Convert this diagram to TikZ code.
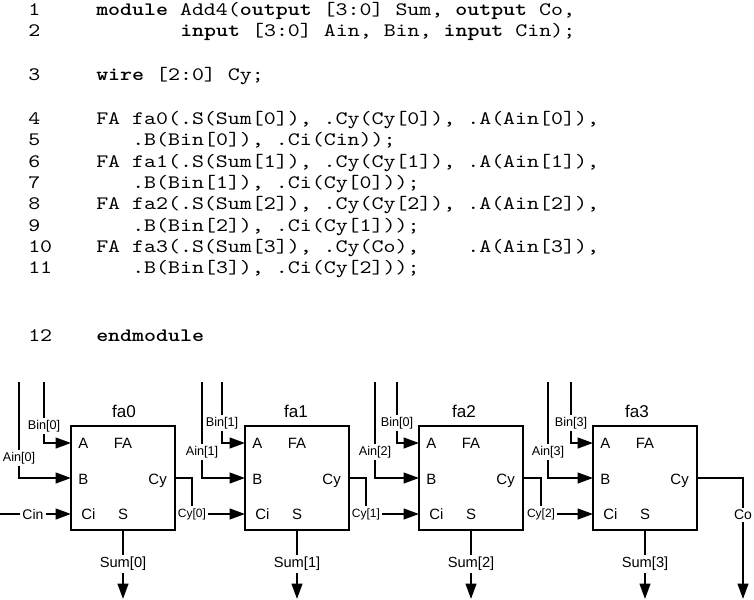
\documentclass[tikz,border=0pt]{standalone}
\usepackage{fontspec}
\setmainfont{Liberation Sans}
\newfontfamily\codefont{lmmono10-regular}[Extension=.otf, BoldFont=lmmonolt10-bold, FakeStretch=1.2]
\usetikzlibrary{arrows.meta}

\begin{document}
\begin{tikzpicture}[
  x=0.75pt, y=-0.75pt,
  code/.style={font=\codefont\fontsize{14.25}{17}\selectfont, anchor=base west, inner sep=0pt},
  wire/.style={line width=1.5pt},
  sig/.style={wire, -{Triangle[length=11.5pt, width=8pt]}},
  fabox/.style={draw, line width=1.5pt, minimum width=78pt, minimum height=78pt, inner sep=0pt},
  port/.style={font=\fontsize{11.2}{13}\selectfont, inner sep=0pt},
  title/.style={font=\fontsize{12.8}{14}\selectfont, inner sep=0pt},
  lab/.style={font=\fontsize{9.5}{11}\selectfont, inner sep=1.5pt},
  cylab/.style={font=\fontsize{9}{10}\selectfont, inner sep=1.5pt},
  outlab/.style={font=\fontsize{10.5}{12}\selectfont, inner sep=1.5pt},
  sumlab/.style={font=\fontsize{11}{12}\selectfont, inner sep=1.5pt},
]
  \useasboundingbox (0,0) rectangle (754,600);

  % ── Verilog listing ──
  \node[code] (n1)  at (28,15)  {1};
  \node[code] (c1)  at (96,15)  {\textbf{module} Add4(\textbf{output} [3:0] Sum, \textbf{output} Co,};
  \node[code] (n2)  at (28,36)  {2};
  \node[code] (c2)  at (180,36) {\textbf{input} [3:0] Ain, Bin, \textbf{input} Cin);};
  \node[code] (n3)  at (28,80)  {3};
  \node[code] (c3)  at (96,80)  {\textbf{wire} [2:0] Cy;};
  \node[code] (n4)  at (28,124) {4};
  \node[code] (c4)  at (96,124) {FA fa0(.S(Sum[0]), .Cy(Cy[0]), .A(Ain[0]),};
  \node[code] (n5)  at (28,145) {5};
  \node[code] (c5)  at (132,145) {.B(Bin[0]), .Ci(Cin));};
  \node[code] (n6)  at (28,167) {6};
  \node[code] (c6)  at (96,167) {FA fa1(.S(Sum[1]), .Cy(Cy[1]), .A(Ain[1]),};
  \node[code] (n7)  at (28,188) {7};
  \node[code] (c7)  at (132,188) {.B(Bin[1]), .Ci(Cy[0]));};
  \node[code] (n8)  at (28,209) {8};
  \node[code] (c8)  at (96,209) {FA fa2(.S(Sum[2]), .Cy(Cy[2]), .A(Ain[2]),};
  \node[code] (n9)  at (28,231) {9};
  \node[code] (c9)  at (132,231) {.B(Bin[2]), .Ci(Cy[1]));};
  \node[code] (n10) at (28,252) {10};
  \node[code] (c10) at (96,252) {FA fa3(.S(Sum[3]), .Cy(Co),\ \ \ \ .A(Ain[3]),};
  \node[code] (n11) at (28,273) {11};
  \node[code] (c11) at (132,273) {.B(Bin[3]), .Ci(Cy[2]));};
  \node[code] (n12) at (28,341) {12};
  \node[code] (c12) at (96,341) {\textbf{endmodule}};

  % ── Full adder blocks ──
  \foreach \i/\xl/\xa/\xb/\ya/\yb/\xt/\bname in {
      0/71/19/44/458/426/124/Bin[0],
      1/245/202/222/452/423/296/Bin[1],
      2/419/375/397/452/423/464/Bin[0],
      3/593/548/571/452/423/637/Bin[3]} {
    \node[fabox] (fa\i) at (\xl+52,478) {};
    \node[title] (t\i) at (\xt,411) {fa\i};
    \node[port, anchor=base west] (pA\i) at (\xl+7,448) {A};
    \node[port, anchor=base west] (pB\i) at (\xl+7,484) {B};
    \node[port, anchor=base west] (pCi\i) at (\xl+10,519) {Ci};
    \node[port, anchor=base] (pFA\i) at (\xl+52,448) {FA};
    \node[port, anchor=base] (pS\i) at (\xl+52,519) {S};
    \node[port, anchor=base east] (pCy\i) at (\xl+96,484) {Cy};
    % pins on the box edge
    \coordinate (inA\i) at (\xl,443);
    \coordinate (inB\i) at (\xl,478);
    \coordinate (inC\i) at (\xl,514);
    \coordinate (out\i) at (\xl+104,478);
    % inputs from the top
    \coordinate (topA\i) at (\xa,382);
    \coordinate (topB\i) at (\xb,382);
    \node[lab] (ain\i) at (\xa,\ya) {Ain[\i]};
    \node[lab] (bin\i) at (\xb,\yb) {\bname};
    \draw[wire] (topB\i) -- (bin\i);
    \draw[sig] (bin\i) |- (inA\i);
    \draw[wire] (topA\i) -- (ain\i);
    \draw[sig] (ain\i) |- (inB\i);
    % sum output
    \node[sumlab] (sum\i) at (\xl+52,564) {Sum[\i]};
    \coordinate (bot\i) at (\xl+52,599);
    \draw[wire] (fa\i) -- (sum\i);
    \draw[sig] (sum\i) -- (bot\i);
  }

  % ── Carry chain ──
  \node[outlab] (cin) at (33,514) {Cin};
  \coordinate (cinend) at (0,514);
  \draw[wire] (cinend) -- (cin);
  \draw[sig] (cin) -- (inC0);
  \foreach \i/\j/\xc in {0/1/192, 1/2/366, 2/3/541} {
    \node[cylab] (cy\i) at (\xc,514) {Cy[\i]};
    \draw[wire] (out\i) -| (cy\i);
    \draw[sig] (cy\i) -- (inC\j);
  }
  \node[outlab] (co) at (743,515) {Co};
  \coordinate (coend) at (743,599);
  \draw[wire] (out3) -| (co);
  \draw[sig] (co) -- (coend);

\end{tikzpicture}
\end{document}
